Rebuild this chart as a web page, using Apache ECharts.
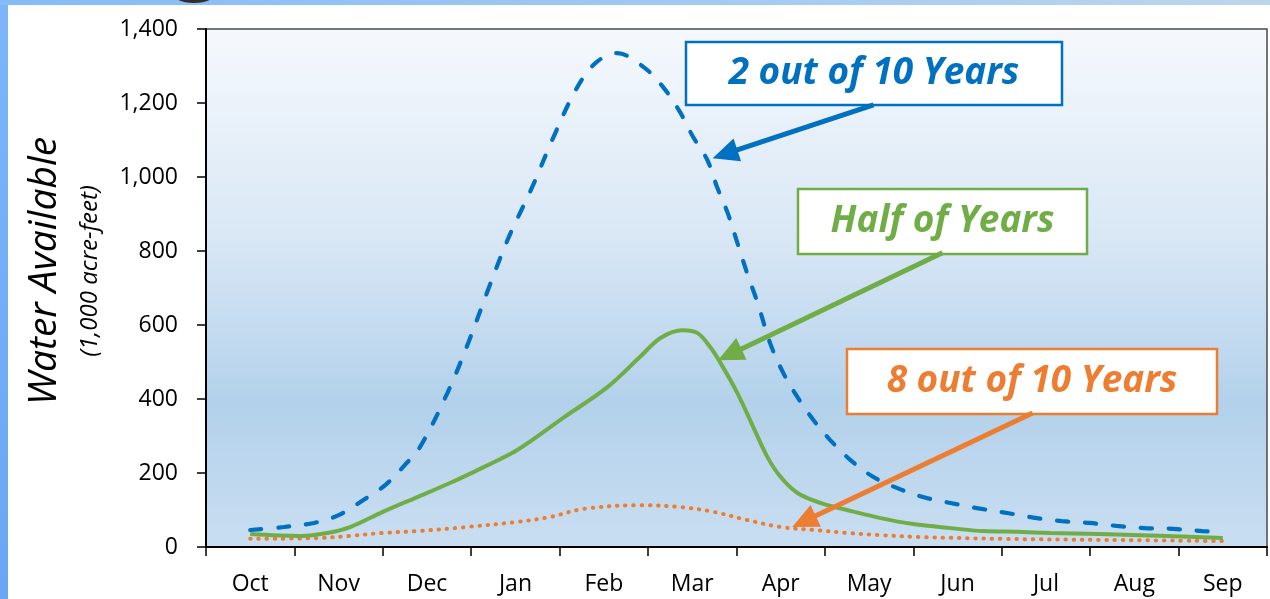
<!DOCTYPE html>
<html>
<head>
<meta charset="utf-8">
<script src="https://cdn.jsdelivr.net/npm/echarts@6/dist/echarts.min.js"></script>
<style>
  html, body { margin: 0; padding: 0; background: #ffffff; }
  #chart { width: 1270px; height: 599px; }
</style>
</head>
<body>
<div id="chart"></div>
<script>
// Month categories (water year, October to September)
const months = ['Oct', 'Nov', 'Dec', 'Jan', 'Feb', 'Mar', 'Apr', 'May', 'Jun', 'Jul', 'Aug', 'Sep'];

// Y axis range (1,000 acre-feet)
const yMin = 0;
const yMax = 1400;
const yStep = 200;

// Positions are month offsets from October (0 = Oct, 11 = Sep)
// Wet year: water available 2 out of 10 years
const wetPos = [0, 0.38, 0.72, 1.0, 1.28, 1.53, 1.75, 1.92, 2.23, 2.47, 2.69, 2.92, 3.19, 3.43, 3.70, 3.92, 4.15, 4.45, 4.67, 4.86, 5.01, 5.17, 5.28, 5.40, 5.51, 5.62, 5.74, 5.88, 6.03, 6.19, 6.37, 6.56, 6.79, 7.05, 7.32, 7.61, 7.92, 8.22, 8.56, 8.90, 9.18, 9.50, 9.80, 10.12, 10.44, 10.77, 11];
const wetVal = [46, 54, 65, 86, 127, 168, 222, 270, 416, 554, 695, 835, 973, 1108, 1243, 1311, 1335, 1297, 1243, 1176, 1108, 1046, 973, 903, 822, 740, 659, 551, 470, 405, 343, 289, 235, 189, 159, 135, 119, 105, 92, 78, 70, 65, 57, 51, 49, 43, 40];

// Median year: half of years
const medPos = [0, 0.57, 0.87, 1.13, 1.5, 1.89, 2.26, 2.64, 3.02, 3.54, 4.04, 4.41, 4.64, 4.89, 5.06, 5.2, 5.32, 5.51, 5.69, 5.85, 6.0, 6.19, 6.45, 6.75, 7.13, 7.5, 7.92, 8.29, 8.68, 9.05, 9.6, 10.37, 11];
const medVal = [35, 30, 38, 54, 95, 135, 173, 216, 262, 349, 432, 514, 565, 586, 578, 541, 497, 416, 324, 243, 189, 146, 119, 100, 78, 62, 51, 43, 41, 38, 35, 30, 24];

// Dry year: 8 out of 10 years
const dryPos = [0, 0.75, 1.13, 1.5, 1.89, 2.45, 3.02, 3.39, 3.77, 4.41, 4.86, 5.24, 5.62, 6.0, 6.37, 6.75, 7.13, 7.58, 8.5, 9.7, 11];
const dryVal = [22, 24, 30, 38, 43, 54, 68, 81, 103, 113, 108, 95, 73, 54, 46, 38, 32, 27, 22, 19, 16];

const BLUE = '#0070C0';
const GREEN = '#70AD47';
const ORANGE = '#ED7D31';
const FONT = '"Open Sans", "Noto Sans", sans-serif';

function pairs(xs, ys) { return xs.map((x, i) => [x, ys[i]]); }

const chart = echarts.init(document.getElementById('chart'), null, { renderer: 'canvas' });

const lineBase = { type: 'line', xAxisIndex: 1, yAxisIndex: 0, showSymbol: false, symbol: 'none',
                   smooth: 0.35, silent: true };

chart.setOption({
  animation: false,
  backgroundColor: '#ffffff',
  grid: {
    left: 206, right: 3, top: 29, bottom: 52,
    show: true,
    borderColor: '#4a4a4a',
    borderWidth: 1.5,
    backgroundColor: new echarts.graphic.LinearGradient(0, 0, 0, 1, [
      { offset: 0, color: '#f5f9fd' },
      { offset: 0.4, color: '#d9e7f5' },
      { offset: 0.72, color: '#b3d1eb' },
      { offset: 1, color: '#c9def1' }
    ])
  },
  xAxis: [
    {
      type: 'category',
      data: months,
      boundaryGap: true,
      axisLine: { onZero: false, lineStyle: { color: '#000000', width: 2 } },
      axisTick: { show: true, length: 9, lineStyle: { color: '#000000', width: 1.5 } },
      axisLabel: { color: '#000000', fontSize: 23, fontFamily: FONT, margin: 26 },
      splitLine: { show: false }
    },
    {
      type: 'value',
      min: -0.5, max: 11.5,
      show: false,
      splitLine: { show: false }
    }
  ],
  yAxis: {
    type: 'value',
    min: yMin, max: yMax, interval: yStep,
    axisLine: { show: true, onZero: false, lineStyle: { color: '#000000', width: 2 } },
    axisTick: { show: true, length: 9, lineStyle: { color: '#000000', width: 1.5 } },
    axisLabel: { color: '#000000', fontSize: 23, fontFamily: FONT, margin: 28,
                 formatter: v => v.toLocaleString('en-US') },
    splitLine: { show: false }
  },
  series: [
    Object.assign({}, lineBase, {
      name: '8 out of 10 Years',
      data: pairs(dryPos, dryVal),
      lineStyle: { color: ORANGE, width: 4, type: [0.5, 7.7], cap: 'round' }
    }),
    Object.assign({}, lineBase, {
      name: 'Half of Years',
      data: pairs(medPos, medVal),
      lineStyle: { color: GREEN, width: 4 }
    }),
    Object.assign({}, lineBase, {
      name: '2 out of 10 Years',
      data: pairs(wetPos, wetVal),
      lineStyle: { color: BLUE, width: 4.2, type: [11, 17], cap: 'round' }
    })
  ]
});

// Callout boxes with arrows pointing at each curve (arrow ends in data space)
const callouts = [
  { text: '2 out of 10 Years', color: BLUE,   box: [686, 42, 376, 63],  from: [7.05, 1195], to: [5.23, 1051] },
  { text: 'Half of Years',     color: GREEN,  box: [798, 189, 289, 65], from: [7.83, 795],  to: [5.29, 505] },
  { text: '8 out of 10 Years', color: ORANGE, box: [847, 349, 370, 65], from: [8.85, 362],  to: [6.13, 54] }
];

const graphics = [];

// Frame strips along the left and top edges
graphics.push({
  type: 'rect', silent: true, z: 100,
  shape: { x: 0, y: 0, width: 8, height: 599 },
  style: { fill: new echarts.graphic.LinearGradient(0, 0, 0, 1, [
    { offset: 0, color: '#7db5f8' }, { offset: 1, color: '#6aa6f4' }]) }
});
graphics.push({
  type: 'rect', silent: true, z: 100,
  shape: { x: 0, y: 0, width: 1270, height: 5 },
  style: { fill: new echarts.graphic.LinearGradient(0, 0, 1, 0, [
    { offset: 0, color: '#84bbf8' }, { offset: 1, color: '#bcd5ee' }]) }
});
graphics.push({
  type: 'ellipse', silent: true, z: 101,
  shape: { cx: 194, cy: -7, rx: 22, ry: 10 },
  style: { fill: '#2e2e2e' }
});

// Axis titles
graphics.push({
  type: 'text', silent: true, z: 100,
  x: 45, y: 271, rotation: Math.PI / 2,
  style: { text: 'Water Available', fill: '#000000', font: 'italic 39px ' + FONT,
           align: 'center', verticalAlign: 'middle' }
});
graphics.push({
  type: 'text', silent: true, z: 100,
  x: 90, y: 271, rotation: Math.PI / 2,
  style: { text: '(1,000 acre-feet)', fill: '#000000', font: 'italic 24px ' + FONT,
           align: 'center', verticalAlign: 'middle' }
});

callouts.forEach(c => {
  const [bx, by, bw, bh] = c.box;
  graphics.push({
    type: 'rect', silent: true, z: 110,
    shape: { x: bx, y: by, width: bw, height: bh },
    style: { fill: '#ffffff', stroke: c.color, lineWidth: 2.5 }
  });
  graphics.push({
    type: 'text', silent: true, z: 111,
    x: bx + bw / 2, y: by + bh / 2,
    style: { text: c.text, fill: c.color, font: 'italic bold 37px ' + FONT,
             align: 'center', verticalAlign: 'middle' }
  });
  const p0 = chart.convertToPixel({ xAxisIndex: 1, yAxisIndex: 0 }, c.from);
  const p1 = chart.convertToPixel({ xAxisIndex: 1, yAxisIndex: 0 }, c.to);
  const dx = p1[0] - p0[0], dy = p1[1] - p0[1];
  const len = Math.hypot(dx, dy);
  const ux = dx / len, uy = dy / len;
  const nx = -uy, ny = ux;
  const L = 26, W = 12;
  const bxp = p1[0] - ux * L, byp = p1[1] - uy * L;
  graphics.push({
    type: 'line', silent: true, z: 112,
    shape: { x1: p0[0], y1: p0[1], x2: bxp + ux * 4, y2: byp + uy * 4 },
    style: { stroke: c.color, lineWidth: 5 }
  });
  graphics.push({
    type: 'polygon', silent: true, z: 112,
    shape: { points: [[p1[0], p1[1]], [bxp + nx * W, byp + ny * W], [bxp - nx * W, byp - ny * W]] },
    style: { fill: c.color }
  });
});

chart.setOption({ graphic: graphics });
</script>
</body>
</html>
